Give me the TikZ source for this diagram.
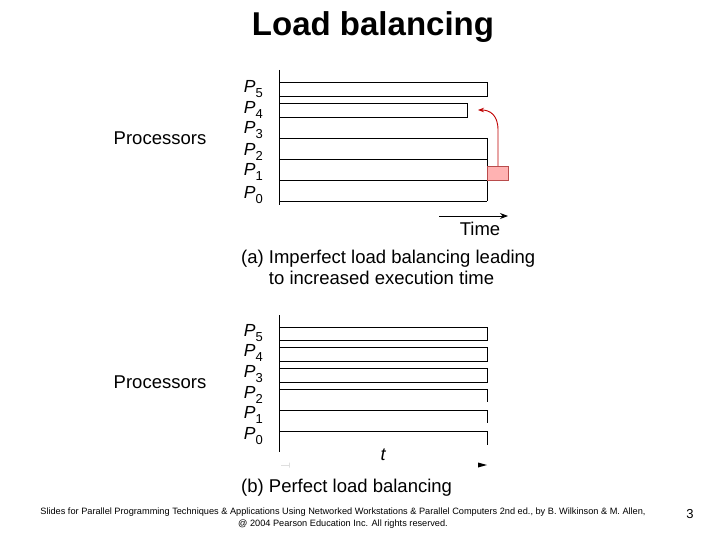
\documentclass[tikz,border=0pt]{standalone}
\usepackage{fontspec}
\setmainfont{Liberation Sans}
\usetikzlibrary{arrows.meta}
\newcommand{\Pl}[1]{{\itshape P}\raisebox{-0.45ex}{\fontsize{13}{13}\selectfont #1}}
\begin{document}
\begin{tikzpicture}[x=1pt,y=-1pt,
  lbl/.style={font=\fontsize{18.5}{18.5}\selectfont, inner sep=0},
  plbl/.style={font=\fontsize{17.5}{17.5}\selectfont, inner sep=0, anchor=east},
  captxt/.style={font=\fontsize{18.5}{21}\selectfont, inner sep=0, anchor=west, align=left},
  ln/.style={line width=0.9pt}]
\useasboundingbox (0,0) rectangle (720,540);
\node[font=\bfseries\fontsize{33}{34}\selectfont] (title) at (373,27) {Load balancing};
% ---- (a)
\node[lbl] (procA) at (160,138) {Processors};
\coordinate (aT) at (279,70); \coordinate (aB) at (279,205);
\draw[ln] (aT) -- (aB);
\foreach \n/\y in {5/89,4/110,3/130,2/152,1/172,0/195}
  \node[plbl] (pa\n) at (263,\y) {\Pl{\n}};
\draw[ln] (279,82) -- (487,82) -- (487,96) -- (279,96);
\draw[ln] (279,103) -- (467,103) -- (467,117) -- (279,117);
\foreach \y in {138,159,180,201} \draw[ln] (279,\y) -- (487,\y);
\draw[ln] (487,138) -- (487,201);
\fill[red!30] (487,166) rectangle (508,180);
\draw[red!60!black!70,line width=0.6pt] (487,166) rectangle (508,180);
\coordinate (rs) at (498,166); \coordinate (re) at (478,110);
\draw[red!75!black,line width=0.9pt,-{Stealth[length=6pt]}] (rs) -- (498,130) .. controls (498,115) and (490,110) .. (re);
\coordinate (ts) at (439,216); \coordinate (te) at (508,216);
\draw[line width=0.9pt,-{Stealth[length=8pt]}] (ts) -- (te);
\node[lbl] (time) at (480,229) {Time};
\node[captxt] (capa) at (241,267) {(a) Imperfect load balancing leading\\\hspace{1.5em}to increased execution time};
% ---- (b)
\node[lbl] (procB) at (160,382) {Processors};
\draw[ln] (279,315) -- (279,452);
\foreach \n/\y in {5/333,4/353,3/374,2/395,1/415,0/436}
  \node[plbl] (pb\n) at (263,\y) {\Pl{\n}};
\foreach \t/\b in {327/340,347/361,368/382}
  \draw[ln] (279,\t) -- (487,\t) -- (487,\b) -- (279,\b);
\foreach \t/\b in {389/402,410/423,431/445}
  \draw[ln] (279,\t) -- (487,\t) -- (487,\b);
\node[lbl,font=\itshape\fontsize{18}{18}\selectfont] (tt) at (383,455) {t};
\coordinate (l1) at (289,465); \coordinate (l0) at (281,465);
\coordinate (r1) at (478,465); \coordinate (r0) at (487,465);
\fill (l0) -- (l1) ++(0,-2.5) -- ++(0,5) -- cycle;
\fill (r0) -- (478,462.5) -- (478,467.5) -- cycle;
\node[captxt] (capb) at (241,488) {(b) Perfect load balancing};
% footer
\node[font=\fontsize{9.2}{12}\selectfont, align=center] (foot) at (343,518) {Slides for Parallel Programming Techniques \& Applications Using Networked Workstations \& Parallel Computers 2nd ed., by B. Wilkinson \& M. Allen,\\@ 2004 Pearson Education Inc. All rights reserved.};
\node[font=\fontsize{13}{13}\selectfont] (pg) at (690,514) {3};
\end{tikzpicture}
\end{document}
